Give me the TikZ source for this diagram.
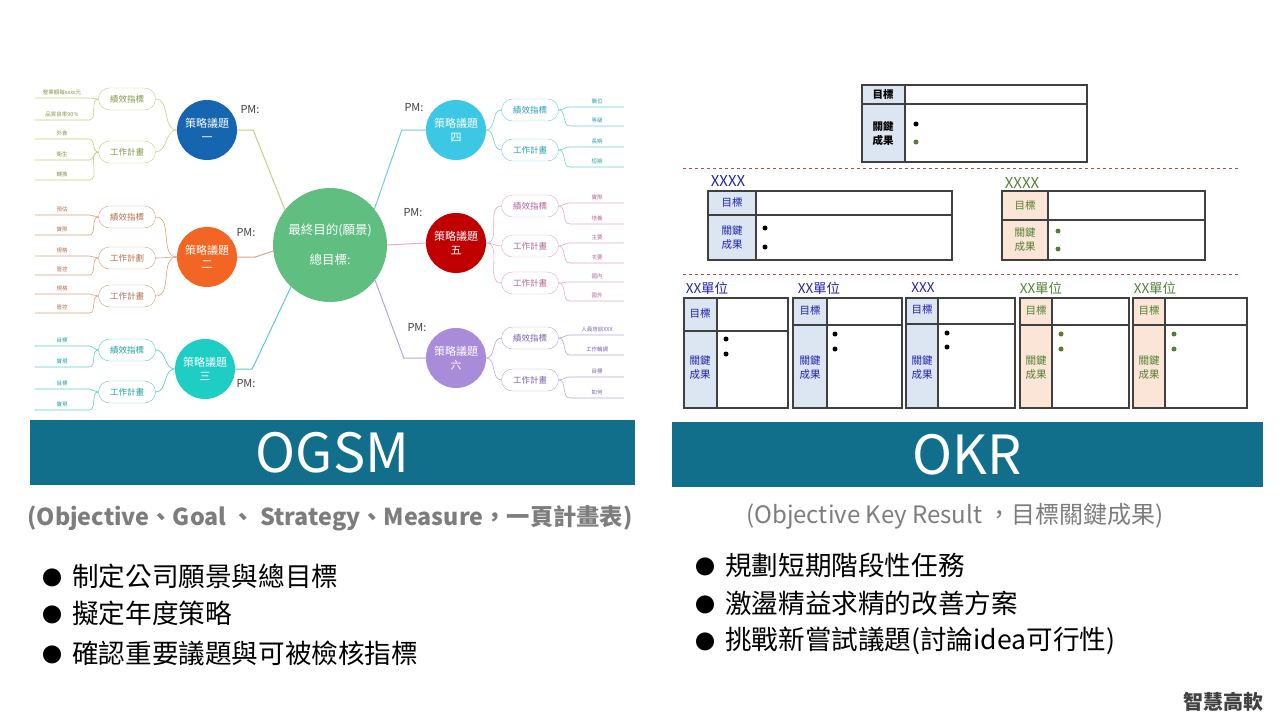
\documentclass[tikz,border=0pt]{standalone}
\usepackage{fontspec}
\setmainfont{Noto Sans CJK TC}
\usetikzlibrary{positioning}

\definecolor{bannerblue}{RGB}{18,111,140}
\definecolor{goalgreen}{RGB}{95,190,128}
\definecolor{onefill}{RGB}{21,101,176}
\definecolor{twofill}{RGB}{242,101,34}
\definecolor{threefill}{RGB}{30,205,195}
\definecolor{fourfill}{RGB}{60,200,228}
\definecolor{fivefill}{RGB}{192,0,0}
\definecolor{sixfill}{RGB}{168,139,217}
\definecolor{onel}{RGB}{196,206,130}
\definecolor{onet}{RGB}{130,150,70}
\definecolor{twol}{RGB}{218,158,128}
\definecolor{twot}{RGB}{180,110,80}
\definecolor{threel}{RGB}{90,205,200}
\definecolor{threet}{RGB}{30,160,160}
\definecolor{fourl}{RGB}{110,205,222}
\definecolor{fourt}{RGB}{40,160,180}
\definecolor{fivel}{RGB}{228,170,205}
\definecolor{fivet}{RGB}{180,100,150}
\definecolor{sixl}{RGB}{182,166,220}
\definecolor{sixt}{RGB}{120,100,170}
\definecolor{pmgray}{RGB}{64,64,64}
\definecolor{subgray}{RGB}{125,125,125}
\definecolor{okrblue}{RGB}{32,36,170}
\definecolor{okrgreen}{RGB}{84,128,52}
\definecolor{headblue}{RGB}{220,230,242}
\definecolor{headpeach}{RGB}{251,229,214}
\definecolor{cutred}{RGB}{192,70,70}
\definecolor{boxgray}{RGB}{64,64,64}

\newcommand{\bul}{\raisebox{0.5pt}{\fontsize{20}{20}\selectfont ●}\hspace{10pt}}

\begin{document}
\begin{tikzpicture}[x=1pt,y=1pt,yscale=-1,
  strat/.style={circle,minimum size=60pt,inner sep=0pt,text=white,align=center,font=\fontsize{11}{14}\selectfont},
  pill/.style={draw,rounded corners=11pt,minimum width=57pt,minimum height=22pt,inner sep=0pt,fill=white,font=\fontsize{8.5}{10}\selectfont},
  leaf/.style={anchor=south,minimum width=54pt,inner sep=0pt,inner ysep=2.5pt,font=\fontsize{5.5}{6}\selectfont},
  pm/.style={text=pmgray,inner sep=0pt,font=\fontsize{11}{12}\selectfont},
  link/.style={line width=1pt},
  twig/.style={line width=0.6pt},
  banner/.style={fill=bannerblue,text=white,inner sep=0pt,font=\fontsize{54}{54}\selectfont},
  bulline/.style={anchor=west,inner sep=0pt,font=\fontsize{26.6}{28}\selectfont},
  okrbox/.style={draw=boxgray,line width=1.2pt},
  okrcut/.style={cutred,dashed,line width=0.8pt},
  okrlab/.style={inner sep=0pt,align=center,font=\fontsize{10.5}{14}\selectfont},
  okrname/.style={inner sep=0pt,font=\fontsize{13.5}{14}\selectfont},
  okrdot/.style={circle,fill,inner sep=0pt,minimum size=5pt}]
\useasboundingbox (0,0) rectangle (1280,720);

%Mind map: goal and strategies
\node[circle,fill=goalgreen,minimum size=114pt,inner sep=0pt,text=white,align=center,font=\fontsize{12.5}{30}\selectfont] (goal) at (330,245) {最終目的(願景)\\總目標:};
\node[strat,fill=onefill] (s1) at (207,130) {策略議題\\一};
\node[strat,fill=twofill] (s2) at (207,257) {策略議題\\二};
\node[strat,fill=threefill] (s3) at (205,369) {策略議題\\三};
\node[strat,fill=fourfill] (s4) at (456,130) {策略議題\\四};
\node[strat,fill=fivefill] (s5) at (456,243) {策略議題\\五};
\node[strat,fill=sixfill] (s6) at (456,358) {策略議題\\六};

% PM labels
\node[pm] (pm1) at (250,110) {PM:};
\node[pm] (pm2) at (246,233) {PM:};
\node[pm] (pm3) at (246,384) {PM:};
\node[pm] (pm4) at (414,108) {PM:};
\node[pm] (pm5) at (413,213) {PM:};
\node[pm] (pm6) at (417,328) {PM:};

%Links goal to strategies
\draw[link,onel] (goal.142) -- ([xshift=16pt]s1.east) -- (s1.east);
\draw[link,twol] (goal.186) -- ([xshift=18pt]s2.east) -- (s2.east);
\draw[link,threel] (goal.227) -- ([xshift=17pt]s3.east) -- (s3.east);
\draw[link,fourl] (goal.39) -- ([xshift=-24pt]s4.west) -- (s4.west);
\draw[link,fivel] (goal.east) -- (s5.west);
\draw[link,sixl] (goal.322) -- ([xshift=-22pt]s6.west) -- (s6.west);

% Pills
\node[pill,draw=onel,text=onet] (p1a) at (127,99) {績效指標};
\node[pill,draw=onel,text=onet] (p1b) at (127,152) {工作計畫};
\node[pill,draw=twol,text=twot] (p2a) at (127,217) {績效指標};
\node[pill,draw=twol,text=twot] (p2b) at (127,258) {工作計劃};
\node[pill,draw=twol,text=twot] (p2c) at (127,296) {工作計畫};
\node[pill,draw=threel,text=threet] (p3a) at (127,350) {績效指標};
\node[pill,draw=threel,text=threet] (p3b) at (127,392) {工作計畫};
\node[pill,draw=fourl,text=fourt] (p4a) at (530,110) {績效指標};
\node[pill,draw=fourl,text=fourt] (p4b) at (530,150) {工作計畫};
\node[pill,draw=fivel,text=fivet] (p5a) at (530,206) {績效指標};
\node[pill,draw=fivel,text=fivet] (p5b) at (530,246) {工作計畫};
\node[pill,draw=fivel,text=fivet] (p5c) at (530,283) {工作計畫};
\node[pill,draw=sixl,text=sixt] (p6a) at (530,338) {績效指標};
\node[pill,draw=sixl,text=sixt] (p6b) at (530,380) {工作計畫};

\draw[twig,onel] (s1.west) to[out=180,in=0] (p1a.east);
\draw[twig,onel] (s1.west) to[out=180,in=0] (p1b.east);
\draw[twig,twol] (s2.west) to[out=180,in=0] (p2a.east);
\draw[twig,twol] (s2.west) to[out=180,in=0] (p2b.east);
\draw[twig,twol] (s2.west) to[out=180,in=0] (p2c.east);
\draw[twig,threel] (s3.west) to[out=180,in=0] (p3a.east);
\draw[twig,threel] (s3.west) to[out=180,in=0] (p3b.east);
\draw[twig,fourl] (s4.east) to[out=0,in=180] (p4a.west);
\draw[twig,fourl] (s4.east) to[out=0,in=180] (p4b.west);
\draw[twig,fivel] (s5.east) to[out=0,in=180] (p5a.west);
\draw[twig,fivel] (s5.east) to[out=0,in=180] (p5b.west);
\draw[twig,fivel] (s5.east) to[out=0,in=180] (p5c.west);
\draw[twig,sixl] (s6.east) to[out=0,in=180] (p6a.west);
\draw[twig,sixl] (s6.east) to[out=0,in=180] (p6b.west);

% Leaves, left side
\node[leaf,text=onet] (l1a) at (62,98) {營業額每xxxx元};
\node[leaf,text=onet] (l1b) at (62,120) {品質良率90\%};
\node[leaf,text=onet] (l1c) at (62,139) {外食};
\node[leaf,text=onet] (l1d) at (62,160) {衛生};
\node[leaf,text=onet] (l1e) at (62,180) {轉換};
\node[leaf,text=twot] (l2a) at (62,215) {預估};
\node[leaf,text=twot] (l2b) at (62,235) {實際};
\node[leaf,text=twot] (l2c) at (62,256) {規格};
\node[leaf,text=twot] (l2d) at (62,275) {管控};
\node[leaf,text=twot] (l2e) at (62,294) {規格};
\node[leaf,text=twot] (l2f) at (62,313) {管控};
\node[leaf,text=threet] (l3a) at (62,346) {目標};
\node[leaf,text=threet] (l3b) at (62,367) {實現};
\node[leaf,text=threet] (l3c) at (62,389) {目標};
\node[leaf,text=threet] (l3d) at (62,410) {實現};

\foreach \p/\l in {p1a/l1a,p1a/l1b,p1b/l1c,p1b/l1d,p1b/l1e}
  \draw[twig,onel] (\p.west) to[out=180,in=0] (\l.south east) -- (\l.south west);
\foreach \p/\l in {p2a/l2a,p2a/l2b,p2b/l2c,p2b/l2d,p2c/l2e,p2c/l2f}
  \draw[twig,twol] (\p.west) to[out=180,in=0] (\l.south east) -- (\l.south west);
\foreach \p/\l in {p3a/l3a,p3a/l3b,p3b/l3c,p3b/l3d}
  \draw[twig,threel] (\p.west) to[out=180,in=0] (\l.south east) -- (\l.south west);

% Leaves, right side
\node[leaf,text=fourt] (l4a) at (597,107) {職位};
\node[leaf,text=fourt] (l4b) at (597,126) {等級};
\node[leaf,text=fourt] (l4c) at (597,147) {長期};
\node[leaf,text=fourt] (l4d) at (597,167) {短期};
\node[leaf,text=fivet] (l5a) at (597,203) {實際};
\node[leaf,text=fivet] (l5b) at (597,224) {培養};
\node[leaf,text=fivet] (l5c) at (597,243) {主要};
\node[leaf,text=fivet] (l5d) at (597,263) {次要};
\node[leaf,text=fivet] (l5e) at (597,282) {國內};
\node[leaf,text=fivet] (l5f) at (597,301) {國外};
\node[leaf,text=sixt] (l6a) at (597,335) {人員培訓XXX};
\node[leaf,text=sixt] (l6b) at (597,355) {工作輪調};
\node[leaf,text=sixt] (l6c) at (597,377) {目標};
\node[leaf,text=sixt] (l6d) at (597,398) {如何};

\foreach \p/\l in {p4a/l4a,p4a/l4b,p4b/l4c,p4b/l4d}
  \draw[twig,fourl] (\p.east) to[out=0,in=180] (\l.south west) -- (\l.south east);
\foreach \p/\l in {p5a/l5a,p5a/l5b,p5b/l5c,p5b/l5d,p5c/l5e,p5c/l5f}
  \draw[twig,fivel] (\p.east) to[out=0,in=180] (\l.south west) -- (\l.south east);
\foreach \p/\l in {p6a/l6a,p6a/l6b,p6b/l6c,p6b/l6d}
  \draw[twig,sixl] (\p.east) to[out=0,in=180] (\l.south west) -- (\l.south east);

%OKR: top objective
\fill[headblue] (862,85) rectangle (905,162);
\draw[okrbox] (862,85) rectangle (1087,162) (862,104) -- (1087,104) (905,85) -- (905,162);
\node[okrlab,font=\bfseries\fontsize{10.5}{14}\selectfont] (o0a) at (883,95) {目標};
\node[okrlab,font=\bfseries\fontsize{10.5}{14}\selectfont] (o0b) at (883,134) {關鍵\\成果};
\node[okrdot,black] (o0c) at (916,124) {};
\node[okrdot,okrgreen] (o0d) at (916,142) {};

\draw[okrcut] (683,168) -- (1240,168);

%OKR: second level
\node[okrname,text=okrblue,font=\fontsize{15}{16}\selectfont] (n1) at (728,181) {XXXX};
\fill[headblue] (708,191) rectangle (756,260);
\draw[okrbox] (708,191) rectangle (952,260) (708,215) -- (952,215) (756,191) -- (756,260);
\node[okrlab,text=okrblue] (o1a) at (732,203) {目標};
\node[okrlab,text=okrblue] (o1b) at (732,238) {關鍵\\成果};
\node[okrdot,black] (o1c) at (765,228) {};
\node[okrdot,black] (o1d) at (765,247) {};

\node[okrname,text=okrgreen,font=\fontsize{15}{16}\selectfont] (n2) at (1022,183) {XXXX};
\fill[headpeach] (1002,191) rectangle (1048,260);
\draw[okrbox] (1002,191) rectangle (1205,260) (1002,220) -- (1205,220) (1048,191) -- (1048,260);
\node[okrlab,text=okrgreen] (o2a) at (1025,206) {目標};
\node[okrlab,text=okrgreen] (o2b) at (1025,240) {關鍵\\成果};
\node[okrdot,okrgreen] (o2c) at (1058,231) {};
\node[okrdot,okrgreen] (o2d) at (1058,249) {};

\draw[okrcut] (683,274) -- (1240,274);

%OKR: units
\node[okrname,text=okrblue] (n3) at (707,288) {XX單位};
\fill[headblue] (684,298) rectangle (717,408);
\draw[okrbox] (684,298) rectangle (788,408) (684,331) -- (788,331) (717,298) -- (717,408);
\node[okrlab,text=okrblue] (o3a) at (700,314) {目標};
\node[okrlab,text=okrblue] (o3b) at (700,368) {關鍵\\成果};
\node[okrdot,black] (o3c) at (726,339) {};
\node[okrdot,black] (o3d) at (726,354) {};

\node[okrname,text=okrblue] (n4) at (819,288) {XX單位};
\fill[headblue] (793,298) rectangle (827,408);
\draw[okrbox] (793,298) rectangle (902,408) (793,325) -- (902,325) (827,298) -- (827,408);
\node[okrlab,text=okrblue] (o4a) at (810,311) {目標};
\node[okrlab,text=okrblue] (o4b) at (810,368) {關鍵\\成果};
\node[okrdot,black] (o4c) at (835,334) {};
\node[okrdot,black] (o4d) at (835,349) {};

\node[okrname,text=okrblue] (n5) at (923,288) {XXX};
\fill[headblue] (906,298) rectangle (938,408);
\draw[okrbox] (906,298) rectangle (1015,408) (906,324) -- (1015,324) (938,298) -- (938,408);
\node[okrlab,text=okrblue] (o5a) at (922,310) {目標};
\node[okrlab,text=okrblue] (o5b) at (922,368) {關鍵\\成果};
\node[okrdot,black] (o5c) at (947,333) {};
\node[okrdot,black] (o5d) at (947,347) {};

\node[okrname,text=okrgreen] (n6) at (1041,288) {XX單位};
\fill[headpeach] (1020,298) rectangle (1052,408);
\draw[okrbox] (1020,298) rectangle (1129,408) (1020,325) -- (1129,325) (1052,298) -- (1052,408);
\node[okrlab,text=okrgreen] (o6a) at (1036,311) {目標};
\node[okrlab,text=okrgreen] (o6b) at (1036,368) {關鍵\\成果};
\node[okrdot,okrgreen] (o6c) at (1061,334) {};
\node[okrdot,okrgreen] (o6d) at (1061,349) {};

\node[okrname,text=okrgreen] (n7) at (1155,288) {XX單位};
\fill[headpeach] (1133,298) rectangle (1165,408);
\draw[okrbox] (1133,298) rectangle (1247,408) (1133,325) -- (1247,325) (1165,298) -- (1165,408);
\node[okrlab,text=okrgreen] (o7a) at (1149,311) {目標};
\node[okrlab,text=okrgreen] (o7b) at (1149,368) {關鍵\\成果};
\node[okrdot,okrgreen] (o7c) at (1174,334) {};
\node[okrdot,okrgreen] (o7d) at (1174,349) {};

% Banners and captions
\node[banner,minimum width=605pt,minimum height=65pt] (ogsm) at (332.5,452.5) {OGSM};
\node[banner,minimum width=591pt,minimum height=65pt] (okr) at (967.5,454.5) {OKR};
\node[text=subgray,inner sep=0pt,font=\bfseries\fontsize{23.3}{25}\selectfont] (ogsmsub) at (330,518) {(Objective、Goal 、 Strategy、Measure，一頁計畫表)};
\node[text=subgray,inner sep=0pt,font=\fontsize{24}{26}\selectfont] (okrsub) at (955,516) {(Objective Key Result ，目標關鍵成果)};

\node[bulline] (ob1) at (42,576) {\bul 制定公司願景與總目標};
\node[bulline] (ob2) at (42,613) {\bul 擬定年度策略};
\node[bulline] (ob3) at (42,653) {\bul 確認重要議題與可被檢核指標};
\node[bulline] (kb1) at (695,565) {\bul 規劃短期階段性任務};
\node[bulline] (kb2) at (695,603) {\bul 激盪精益求精的改善方案};
\node[bulline] (kb3) at (695,641) {\bul 挑戰新嘗試議題(討論idea可行性)};

\node[text=pmgray,inner sep=0pt,font=\bfseries\fontsize{20}{22}\selectfont] (brand) at (1223,702) {智慧高軟};

\end{tikzpicture}
\end{document}
